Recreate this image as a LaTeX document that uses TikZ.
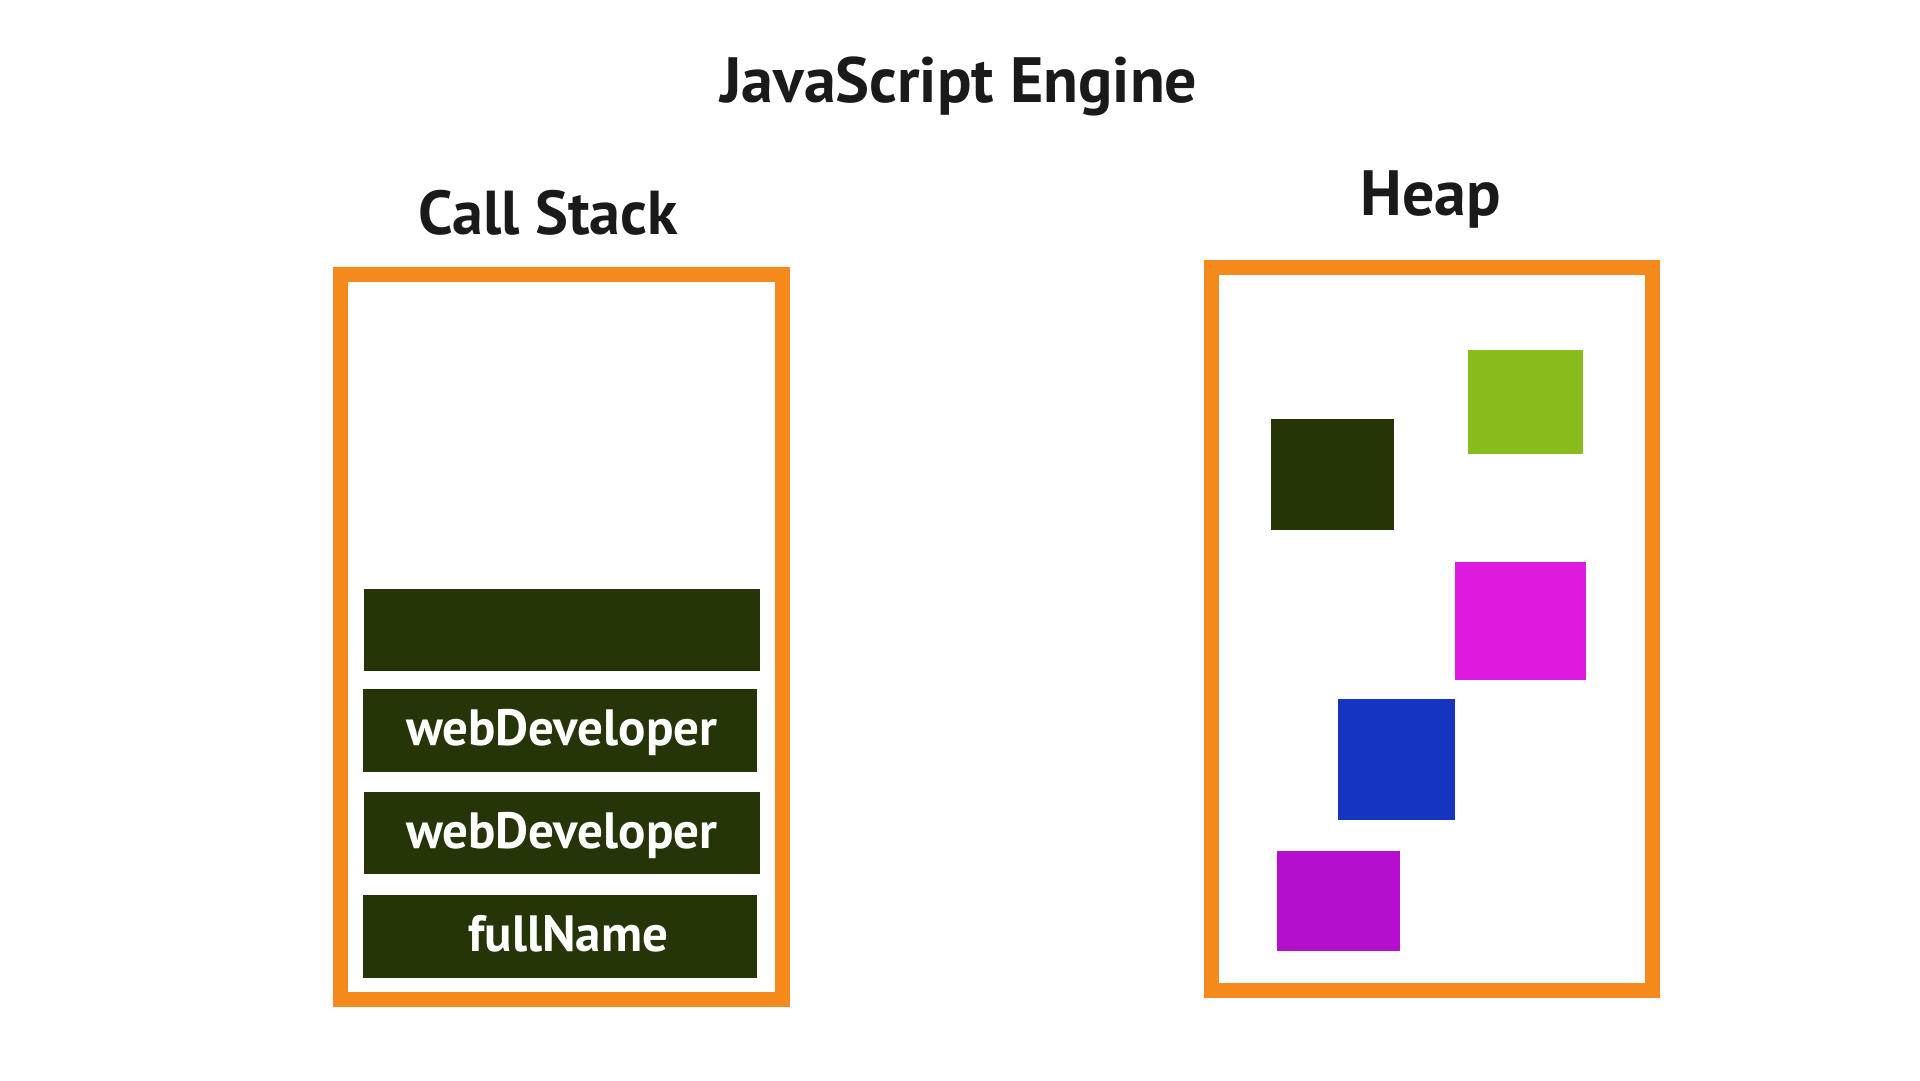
\documentclass[tikz,border=0pt]{standalone}
\usepackage{fontspec}
\setmainfont{PT Sans}
\begin{document}
\begin{tikzpicture}[x=1pt,y=-1pt]
\definecolor{edge}{HTML}{F5891B}
\definecolor{frame}{HTML}{263508}
\definecolor{ink}{HTML}{1A1A1A}
\tikzset{
  heading/.style={anchor=base, inner sep=0pt, text=ink, font=\bfseries\fontsize{64}{64}\selectfont},
  framelabel/.style={anchor=base, inner sep=0pt, text=white, font=\bfseries\fontsize{51}{51}\selectfont},
  region/.style={draw=edge, line width=15pt},
}
\useasboundingbox[fill=white] (0,0) rectangle (1920,1080);
\node[heading] (engine) at (959,102) {JavaScript Engine};
\node[heading, font=\bfseries\fontsize{62}{62}\selectfont] (stacktitle) at (548,234.3) {Call Stack};
\node[heading] (heaptitle) at (1431,215) {Heap};
% call stack
\draw[region] (340.5,274.5) rectangle (782.5,999);
\fill[frame] (364,589) rectangle (760,671);
\fill[frame] (362.5,689.4) rectangle (757,771.5) (561.7,745) node[framelabel] (dev2) {webDeveloper};
\fill[frame] (364,792.2) rectangle (760,874.3) (561.7,848) node[framelabel] (dev1) {webDeveloper};
\fill[frame] (362.5,895) rectangle (757,977.5) (568.4,951) node[framelabel] (name) {fullName};
% heap
\draw[region] (1211,267) rectangle (1652.5,990.5);
\definecolor{col}{HTML}{263508}
\fill[col] (1271,418.8) rectangle (1394,530.2);
\definecolor{col}{HTML}{86BC1C}
\fill[col] (1468,350.2) rectangle (1583,454.3);
\definecolor{col}{HTML}{DD1ADD}
\fill[col] (1455,562) rectangle (1586,679.6);
\definecolor{col}{HTML}{1535C0}
\fill[col] (1338,699.2) rectangle (1455,820.4);
\definecolor{col}{HTML}{B50FCE}
\fill[col] (1277,851) rectangle (1400,951.4);
\end{tikzpicture}
\end{document}
